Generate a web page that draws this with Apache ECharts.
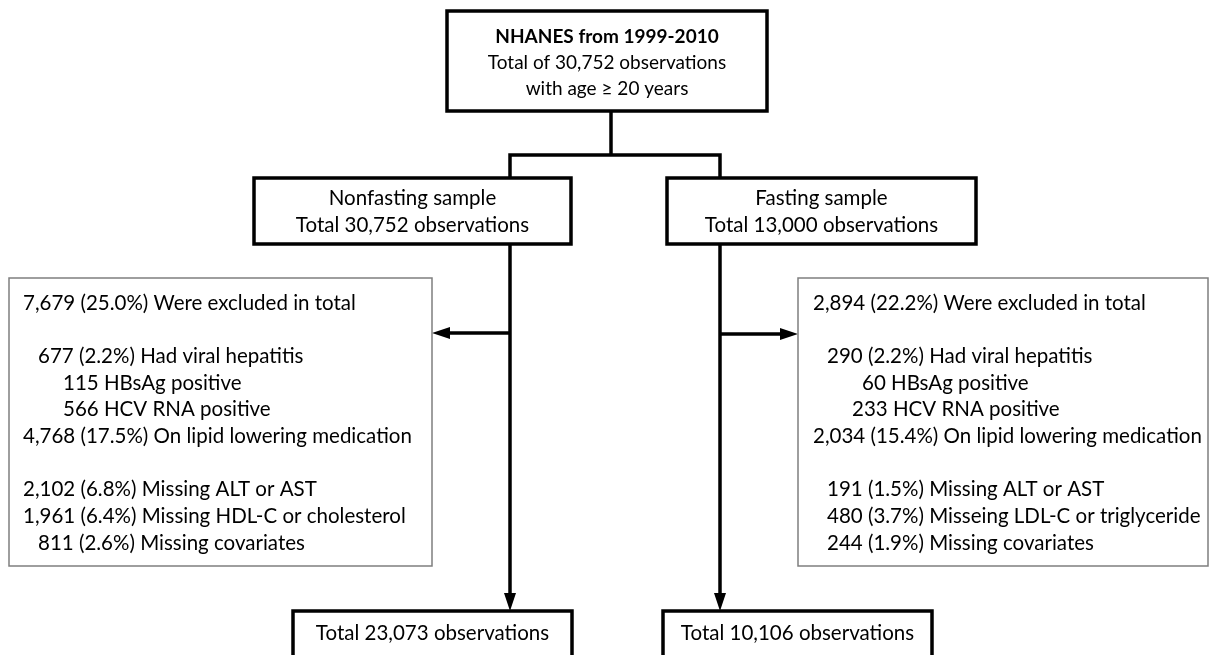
<!DOCTYPE html>
<html>
<head>
<meta charset="utf-8">
<script src="https://cdn.jsdelivr.net/npm/echarts@6/dist/echarts.min.js"></script>
<style>
  html, body { margin: 0; padding: 0; background: #ffffff; }
  #chart { width: 1210px; height: 655px; }
</style>
</head>
<body>
<div id="chart"></div>
<script>
// ---- flowchart content ----
var sourceTitle = 'NHANES from 1999-2010';
var sourceLines = ['Total of 30,752 observations', 'with age \u2265 20 years'];
var sampleNames = ['Nonfasting sample', 'Fasting sample'];
var sampleTotals = [30752, 13000];
var finalTotals = [23073, 10106];

// one entry per text row of the exclusion boxes, '' = empty row
var excludedNonfasting = [
  '7,679 (25.0%) Were excluded in total',
  '',
  '677 (2.2%) Had viral hepatitis',
  '115 HBsAg positive',
  '566 HCV RNA positive',
  '4,768 (17.5%) On lipid lowering medication',
  '',
  '2,102 (6.8%) Missing ALT or AST',
  '1,961 (6.4%) Missing HDL-C or cholesterol',
  '811 (2.6%) Missing covariates'
];
var excludedFasting = [
  '2,894 (22.2%) Were excluded in total',
  '',
  '290 (2.2%) Had viral hepatitis',
  '60 HBsAg positive',
  '233 HCV RNA positive',
  '2,034 (15.4%) On lipid lowering medication',
  '',
  '191 (1.5%) Missing ALT or AST',
  '480 (3.7%) Misseing LDL-C or triglyceride',
  '244 (1.9%) Missing covariates'
];

// ---- layout (in the hidden 1210 x 655 axis space) ----
var FONT = 'Lato';
var FS_TOP = 19;
var FS = 20.5;
var indentLeft = [14, 0, 29, 54, 54, 14, 0, 14, 14, 29];
var indentRight = [15, 0, 29, 64, 54, 15, 0, 29, 29, 29];
var rowTop = 303, rowStep = 26.67;

var boxes = [
  { x: 447, y: 11, w: 320, h: 100, thin: false },
  { x: 254, y: 178, w: 317, h: 66, thin: false },
  { x: 667, y: 178, w: 309, h: 66, thin: false },
  { x: 9, y: 278, w: 423, h: 288, thin: true },
  { x: 798, y: 278, w: 410, h: 288, thin: true },
  { x: 293, y: 611, w: 279, h: 60, thin: false },
  { x: 663, y: 611, w: 269, h: 60, thin: false }
];

var connectors = [
  [[611, 111], [611, 155]],
  [[510, 178], [510, 155], [720, 155], [720, 178]],
  [[510, 244], [510, 595]],
  [[720, 244], [720, 595]],
  [[510, 333], [450, 333]],
  [[720, 334], [780, 334]]
];
// arrow heads: tip point and direction
var arrows = [
  { tip: [510, 611], dir: [0, 1] },
  { tip: [720, 611], dir: [0, 1] },
  { tip: [432, 333], dir: [-1, 0] },
  { tip: [798, 334], dir: [1, 0] }
];
var arrowLen = 18, arrowHalf = 6;

function fmt(n) { return n.toLocaleString('en-US'); }

// text items
var texts = [];
texts.push({ x: 607, y: 37, text: sourceTitle, bold: true, align: 'center', size: FS_TOP });
sourceLines.forEach(function (t, i) {
  texts.push({ x: 607, y: 63 + i * 26, text: t, align: 'center', size: FS_TOP });
});
var sampleCenters = [412.5, 821.5];
sampleNames.forEach(function (name, i) {
  texts.push({ x: sampleCenters[i], y: 198, text: name, align: 'center' });
  texts.push({ x: sampleCenters[i], y: 225, text: 'Total ' + fmt(sampleTotals[i]) + ' observations', align: 'center' });
});
excludedNonfasting.forEach(function (t, i) {
  if (t) texts.push({ x: boxes[3].x + indentLeft[i], y: rowTop + i * rowStep, text: t, align: 'left' });
});
excludedFasting.forEach(function (t, i) {
  if (t) texts.push({ x: boxes[4].x + indentRight[i], y: rowTop + i * rowStep, text: t, align: 'left' });
});
var finalCenters = [432.5, 797.5];
finalTotals.forEach(function (n, i) {
  texts.push({ x: finalCenters[i], y: 633, text: 'Total ' + fmt(n) + ' observations', align: 'center' });
});

var chart = echarts.init(document.getElementById('chart'));

var option = {
  animation: false,
  backgroundColor: '#ffffff',
  grid: { left: 0, right: 0, top: 0, bottom: 0 },
  xAxis: { type: 'value', min: 0, max: 1210, show: false },
  yAxis: { type: 'value', min: 0, max: 655, inverse: true, show: false },
  series: [
    {
      type: 'custom',
      name: 'connectors',
      silent: true,
      data: connectors.map(function (c) { return c[0]; }),
      renderItem: function (params, api) {
        var pts = connectors[params.dataIndex].map(function (p) { return api.coord(p); });
        return {
          type: 'polyline',
          shape: { points: pts },
          style: { stroke: '#000', lineWidth: 3.5, fill: null, lineJoin: 'miter' }
        };
      }
    },
    {
      type: 'custom',
      name: 'arrows',
      silent: true,
      data: arrows.map(function (a) { return a.tip; }),
      renderItem: function (params, api) {
        var a = arrows[params.dataIndex];
        var tip = a.tip, d = a.dir;
        var bx = tip[0] - d[0] * arrowLen, by = tip[1] - d[1] * arrowLen;
        var pts = [
          api.coord(tip),
          api.coord([bx - d[1] * arrowHalf, by + d[0] * arrowHalf]),
          api.coord([bx + d[1] * arrowHalf, by - d[0] * arrowHalf])
        ];
        return { type: 'polygon', shape: { points: pts }, style: { fill: '#000' } };
      }
    },
    {
      type: 'custom',
      name: 'boxes',
      silent: true,
      data: boxes.map(function (b) { return [b.x, b.y]; }),
      renderItem: function (params, api) {
        var b = boxes[params.dataIndex];
        var p0 = api.coord([b.x, b.y]);
        var p1 = api.coord([b.x + b.w, b.y + b.h]);
        return {
          type: 'rect',
          shape: { x: p0[0], y: p0[1], width: p1[0] - p0[0], height: p1[1] - p0[1] },
          style: {
            fill: '#ffffff',
            stroke: b.thin ? '#7f7f7f' : '#000000',
            lineWidth: b.thin ? 1.5 : 3.5
          }
        };
      }
    },
    {
      type: 'custom',
      name: 'texts',
      silent: true,
      data: texts.map(function (t) { return [t.x, t.y]; }),
      renderItem: function (params, api) {
        var t = texts[params.dataIndex];
        var p = api.coord([t.x, t.y]);
        return {
          type: 'text',
          x: p[0],
          y: p[1],
          style: {
            text: t.text,
            fill: '#000',
            fontFamily: FONT,
            fontSize: t.size || FS,
            fontWeight: t.bold ? 'bold' : 'normal',
            align: t.align,
            verticalAlign: 'middle'
          }
        };
      }
    }
  ]
};

chart.setOption(option);
</script>
</body>
</html>
